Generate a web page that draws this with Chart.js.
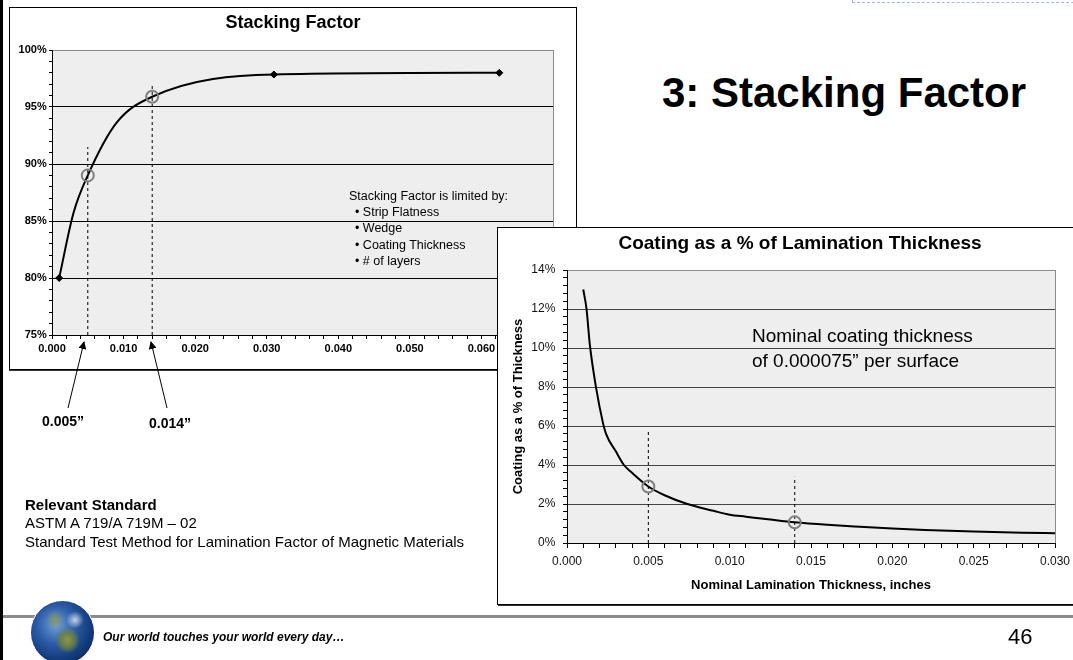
<!DOCTYPE html>
<html>
<head>
<meta charset="utf-8">
<title>3: Stacking Factor</title>
<script src="https://cdn.jsdelivr.net/npm/chart.js@4.4.1/dist/chart.umd.min.js"></script>
<style>
  html, body { margin: 0; padding: 0; }
  body { width: 1073px; height: 660px; position: relative; overflow: hidden; background: #fff;
         font-family: "Liberation Sans", Arial, sans-serif; color: #000; }
  .abs { position: absolute; white-space: nowrap; }
  canvas { display: block; }
  #leftBar { left: 0; top: 0; width: 3px; height: 660px; background: #000; }
  #topBox { left: 852px; top: -20px; width: 260px; height: 21px; border: 1px dashed #9db6ee; }
  #slideTitle { left: 662px; top: 68px; font-size: 42px; font-weight: bold; line-height: 50px; }
  #sfBox { left: 9px; top: 7px; width: 566px; height: 361px; border: 1px solid #000; box-shadow: 0 1px 0 #333; background: #fff; }
  #ctBox { left: 497px; top: 227px; width: 640px; height: 376px; border: 1px solid #000; box-shadow: 1px 1px 0 #333; background: #fff; }
  #limits { left: 349px; top: 188px; font-size: 12.5px; line-height: 16.2px; }
  #limits .item { padding-left: 6px; }
  #coatNote { left: 752px; top: 323px; font-size: 19px; line-height: 25px; }
  .arrowLabel { width: 80px; text-align: center; font-size: 14px; font-weight: bold; line-height: 18px; }
  #std { left: 25px; top: 496px; font-size: 15px; line-height: 18.4px; }
  #footLine { left: 3px; top: 615px; width: 1070px; height: 3px; background: #8c8c8c; }
  #globe { left: 30px; top: 600px; width: 63px; height: 63px; border-radius: 50%; border: 1px solid #fff;
           background:
             radial-gradient(ellipse at 58% 62%, rgba(150,150,70,0.95) 0, rgba(110,130,60,0.8) 14%, rgba(0,0,0,0) 24%),
             radial-gradient(ellipse at 38% 30%, rgba(140,150,80,0.9) 0, rgba(0,0,0,0) 16%),
             radial-gradient(ellipse at 70% 30%, rgba(240,240,250,0.8) 0, rgba(0,0,0,0) 14%),
             radial-gradient(circle at 40% 38%, #6d9fdc 0, #2c5ca6 35%, #113a7a 65%, #07193f 100%); }
  #footText { left: 103px; top: 629px; font-size: 12px; font-weight: bold; font-style: italic; line-height: 16px; }
  #pageNo { left: 1008px; top: 624px; font-size: 22px; line-height: 26px; }
</style>
</head>
<body>
<script>
// Stacking factor curve: lamination thickness (in) vs stacking factor (%)
const sfThickness = [0.001, 0.003, 0.005, 0.009, 0.014, 0.031, 0.0625];
const sfPercent = [80.0, 85.7, 89.0, 93.6, 95.9, 97.85, 98.0];
// measured points that carry a diamond marker
const sfMarkX = [0.001, 0.031, 0.0625];
const sfMarkY = [80.0, 97.85, 98.0];

// coating as a % of lamination thickness
const ctThickness = [0.0010, 0.0012, 0.0014, 0.0018, 0.0022, 0.0024, 0.0030, 0.0035, 0.0040, 0.0050,
                     0.0060, 0.0074, 0.0090, 0.0100, 0.0110, 0.0125, 0.0140, 0.0160, 0.0180, 0.0200,
                     0.0220, 0.0250, 0.0280, 0.0300];
const ctPercent = [13.0, 12.0, 10.2, 7.9, 6.2, 5.6, 4.7, 4.0, 3.6, 2.9,
                   2.45, 2.0, 1.65, 1.45, 1.35, 1.2, 1.06, 0.93, 0.83, 0.74,
                   0.67, 0.59, 0.53, 0.50];

// the two thicknesses called out on both charts
const highlightThickness = [0.005, 0.014];
const sfHighlight = [89.0, 95.9];
const sfGuideTop = [91.5, 97.0];
const ctHighlight = [2.9, 1.06];
const ctGuideTop = [5.75, 3.4];

const isMultiple = (v, step) => Math.abs(v / step - Math.round(v / step)) < 1e-6;
const clear = 'rgba(0,0,0,0)';

Chart.defaults.font.family = '"Liberation Sans", Arial, sans-serif';

// grey plot area with a thin outline, like the Excel charts
const plotBackground = {
  id: 'plotBackground',
  beforeDraw(chart, args, opts) {
    const { ctx, chartArea: a } = chart;
    ctx.save();
    ctx.fillStyle = opts.fill;
    ctx.fillRect(a.left, a.top, a.width, a.height);
    ctx.strokeStyle = opts.edge;
    ctx.lineWidth = 1;
    ctx.strokeRect(Math.round(a.left) + 0.5, Math.round(a.top) + 0.5, Math.round(a.width), Math.round(a.height));
    ctx.restore();
  }
};

function guideSets(tops, bottom) {
  return highlightThickness.map((x, i) => ({
    data: [{ x: x, y: bottom }, { x: x, y: tops[i] }],
    showLine: true, borderColor: '#000', borderWidth: 1, borderDash: [3, 3], pointRadius: 0
  }));
}

function circleSet(values) {
  return {
    data: highlightThickness.map((x, i) => ({ x: x, y: values[i] })),
    showLine: false, pointStyle: 'circle', pointRadius: 6, pointBorderWidth: 2,
    borderColor: '#7f7f7f', backgroundColor: clear
  };
}
</script>

<div id="leftBar" class="abs"></div>
<div id="topBox" class="abs"></div>
<div id="slideTitle" class="abs">3: Stacking Factor</div>

<div id="sfBox" class="abs"><canvas id="sfChart" width="566" height="361"></canvas></div>
<div id="limits" class="abs">
  <div>Stacking Factor is limited by:</div>
  <div class="item">• Strip Flatness</div>
  <div class="item">• Wedge</div>
  <div class="item">• Coating Thickness</div>
  <div class="item">• # of layers</div>
</div>

<svg class="abs" style="left:0;top:0" width="1073" height="660">
  <defs>
    <marker id="head" markerWidth="8" markerHeight="8" refX="7" refY="4" orient="auto" markerUnits="userSpaceOnUse">
      <path d="M0,0 L8,4 L0,8 z" fill="#000"/>
    </marker>
  </defs>
  <line x1="68" y1="408" x2="84" y2="342" stroke="#000" stroke-width="1" marker-end="url(#head)"/>
  <line x1="167" y1="408" x2="151" y2="342" stroke="#000" stroke-width="1" marker-end="url(#head)"/>
</svg>
<div class="abs arrowLabel" style="left:23px;top:412px">0.005”</div>
<div class="abs arrowLabel" style="left:130px;top:414px">0.014”</div>

<div id="std" class="abs">
  <div><b>Relevant Standard</b></div>
  <div>ASTM A 719/A 719M – 02</div>
  <div>Standard Test Method for Lamination Factor of Magnetic Materials</div>
</div>

<div id="ctBox" class="abs"><canvas id="ctChart" width="604" height="376"></canvas></div>
<div id="coatNote" class="abs">Nominal coating thickness<br>of 0.000075” per surface</div>

<div id="footLine" class="abs"></div>
<div id="globe" class="abs"></div>
<div id="footText" class="abs">Our world touches your world every day…</div>
<div id="pageNo" class="abs">46</div>

<script>
new Chart(document.getElementById('sfChart'), {
  type: 'scatter',
  plugins: [plotBackground],
  data: {
    datasets: [
      circleSet(sfHighlight),
      {
        data: sfMarkX.map((x, i) => ({ x: x, y: sfMarkY[i] })),
        showLine: false, pointStyle: 'rectRot', pointRadius: 3.5,
        backgroundColor: '#000', borderColor: '#000'
      },
      {
        data: sfThickness.map((x, i) => ({ x: x, y: sfPercent[i] })),
        showLine: true, borderColor: '#000', borderWidth: 2, pointRadius: 0,
        cubicInterpolationMode: 'monotone'
      },
      ...guideSets(sfGuideTop, 75)
    ]
  },
  options: {
    responsive: false,
    animation: false,
    events: [],
    layout: { padding: 0 },
    plugins: {
      legend: { display: false },
      tooltip: { enabled: false },
      title: {
        display: true, text: 'Stacking Factor', color: '#000',
        font: { size: 18, weight: 'bold' }, padding: { top: 4.5, bottom: 15.9 }
      },
      plotBackground: { fill: '#eeeeee', edge: '#8c8c8c' }
    },
    scales: {
      x: {
        type: 'linear', min: 0, max: 0.07,
        ticks: {
          stepSize: 0.002, maxTicksLimit: 50, autoSkip: false, maxRotation: 0,
          color: '#000', font: { size: 11, weight: 'bold' }, padding: 3,
          callback: v => isMultiple(v, 0.01) ? v.toFixed(3) : ''
        },
        grid: { drawOnChartArea: false, tickLength: 4, tickColor: '#000' },
        border: { color: '#000' },
        afterFit: s => { s.height = 34; }
      },
      y: {
        type: 'linear', min: 75, max: 100,
        ticks: {
          stepSize: 1, maxTicksLimit: 40, autoSkip: false,
          color: '#000', font: { size: 11, weight: 'bold' }, padding: 2.3,
          callback: v => isMultiple(v, 5) ? Math.round(v) + '%' : ''
        },
        grid: {
          color: c => (isMultiple(c.tick.value, 5) && c.tick.value < 100) ? '#000' : clear,
          tickLength: 3, tickColor: '#000'
        },
        border: { color: '#000' },
        afterFit: s => { s.width = 42; }
      },
      yPad: {
        type: 'linear', position: 'right',
        grid: { display: false }, ticks: { display: false }, border: { display: false },
        afterFit: s => { s.width = 23; }
      }
    }
  }
});

new Chart(document.getElementById('ctChart'), {
  type: 'scatter',
  plugins: [plotBackground],
  data: {
    datasets: [
      circleSet(ctHighlight),
      {
        data: ctThickness.map((x, i) => ({ x: x, y: ctPercent[i] })),
        showLine: true, borderColor: '#000', borderWidth: 2, pointRadius: 0,
        cubicInterpolationMode: 'monotone'
      },
      ...guideSets(ctGuideTop, 0)
    ]
  },
  options: {
    responsive: false,
    animation: false,
    events: [],
    layout: { padding: 0 },
    plugins: {
      legend: { display: false },
      tooltip: { enabled: false },
      title: {
        display: true, text: 'Coating as a % of Lamination Thickness', color: '#000',
        font: { size: 19, weight: 'bold' }, padding: { top: 4.6, bottom: 14.6 }
      },
      plotBackground: { fill: '#eeeeee', edge: '#8c8c8c' }
    },
    scales: {
      x: {
        type: 'linear', min: 0, max: 0.03,
        title: {
          display: true, text: 'Nominal Lamination Thickness, inches', color: '#000',
          font: { size: 13, weight: 'bold' }, padding: { top: 0, bottom: 11.2 }
        },
        ticks: {
          stepSize: 0.001, maxTicksLimit: 40, autoSkip: false, maxRotation: 0,
          color: '#111', font: { size: 12 }, padding: 6.8,
          callback: v => isMultiple(v, 0.005) ? v.toFixed(3) : ''
        },
        grid: { drawOnChartArea: false, tickLength: 5, tickColor: '#000' },
        border: { color: '#000' },
        afterFit: s => { s.height = 61; }
      },
      y: {
        type: 'linear', min: 0, max: 14,
        title: {
          display: true, text: 'Coating as a % of Thickness', color: '#000',
          font: { size: 13, weight: 'bold' }, padding: { top: 12.5, bottom: 0 }
        },
        ticks: {
          stepSize: 0.4, maxTicksLimit: 50, autoSkip: false,
          color: '#111', font: { size: 12 }, padding: 7.7,
          callback: v => isMultiple(v, 2) ? Math.round(v) + '%' : ''
        },
        grid: {
          color: c => (isMultiple(c.tick.value, 2) && c.tick.value > 0 && c.tick.value < 14) ? '#444' : clear,
          tickLength: 4, tickColor: '#000'
        },
        border: { color: '#000' },
        afterFit: s => { s.width = 69; }
      },
      yPad: {
        type: 'linear', position: 'right',
        grid: { display: false }, ticks: { display: false }, border: { display: false },
        afterFit: s => { s.width = 47; }
      }
    }
  }
});
</script>
</body>
</html>
